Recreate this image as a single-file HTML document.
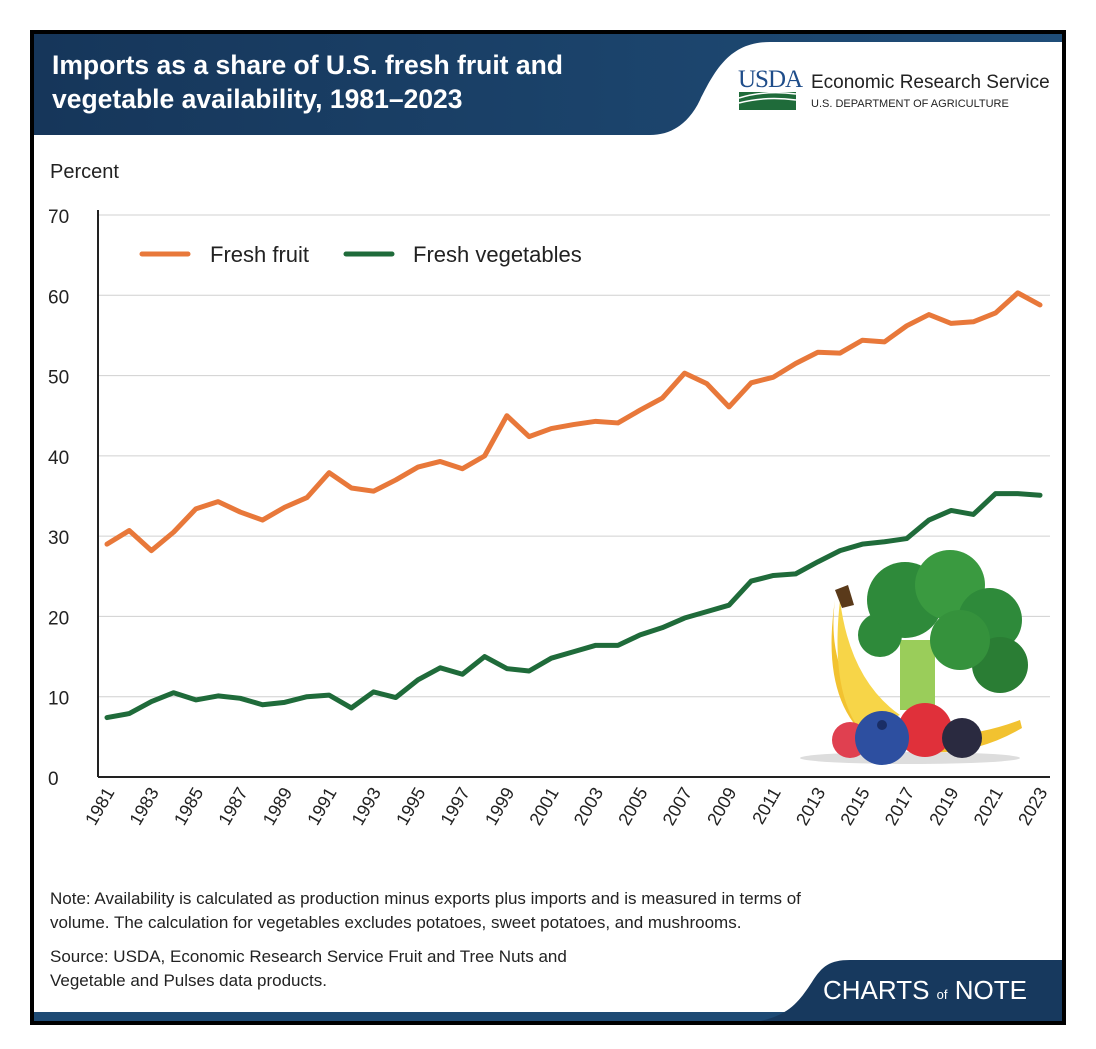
<!DOCTYPE html>
<html><head><meta charset="utf-8"><style>
body{margin:0;background:#fff;width:1096px;height:1044px;overflow:hidden;font-family:"Liberation Sans",sans-serif}
</style></head><body>
<svg id="chart" width="1096" height="1044" xmlns="http://www.w3.org/2000/svg" font-family="Liberation Sans, sans-serif">
<rect x="0" y="0" width="1096" height="1044" fill="#fff"/>
<rect x="32" y="32" width="1032" height="991" fill="#fff" stroke="#000" stroke-width="4"/>
<defs><linearGradient id="hg" x1="0" x2="1"><stop offset="0" stop-color="#16365a"/><stop offset="1" stop-color="#1f4d78"/></linearGradient></defs>
<path d="M34 34 H1062 V42 H770 C730 42 715 70 700 100 C688 125 670 135 650 135 H34 Z" fill="url(#hg)"/>
<text fill="#fff" font-weight="bold" font-size="26.5"><tspan x="52" y="74">Imports as a share of U.S. fresh fruit and</tspan><tspan x="52" y="108">vegetable availability, 1981–2023</tspan></text>
<g>
<text x="738" y="87" font-family="Liberation Serif, serif" font-size="25" fill="#1f4d8a" letter-spacing="-1">USDA</text>
<rect x="739" y="92" width="57" height="18" fill="#1f6b3a"/>
<path d="M739 98 Q765 90 796 94 M739 103 Q765 96 796 100" stroke="#fff" stroke-width="1.5" fill="none"/>
<text x="811" y="88" font-size="19" fill="#222">Economic Research Service</text>
<text x="811" y="107" font-size="11" fill="#222">U.S. DEPARTMENT OF AGRICULTURE</text>
</g>
<text x="50" y="178" font-size="20" fill="#222">Percent</text>
<g id="plot"></g>
<g>
<path d="M835 600 Q825 680 880 720 Q940 750 1020 720 L1022 728 Q950 770 870 740 Q820 700 835 600Z" fill="#f2c230"/>
<path d="M840 600 Q850 680 900 715 L860 730 Q830 690 840 600Z" fill="#f7d548"/>
<path d="M835 590 L848 585 L854 605 L842 608Z" fill="#5a3a1a"/>
<rect x="900" y="640" width="35" height="70" fill="#9acd5a"/>
<circle cx="905" cy="600" r="38" fill="#2e8a3a"/><circle cx="950" cy="585" r="35" fill="#3a9a40"/>
<circle cx="990" cy="620" r="32" fill="#2e8a3a"/><circle cx="1000" cy="665" r="28" fill="#2a7d34"/>
<circle cx="880" cy="635" r="22" fill="#2e8a3a"/><circle cx="960" cy="640" r="30" fill="#35923c"/>
<ellipse cx="910" cy="758" rx="110" ry="6" fill="#ddd"/>
<circle cx="850" cy="740" r="18" fill="#e04050"/>
<circle cx="925" cy="730" r="27" fill="#e0303a"/>
<circle cx="962" cy="738" r="20" fill="#2a2a40"/>
<circle cx="882" cy="738" r="27" fill="#2d4fa0"/><circle cx="882" cy="725" r="5" fill="#1a2e66"/>
</g>
<text font-size="17" fill="#222"><tspan x="50" y="904">Note: Availability is calculated as production minus exports plus imports and is measured in terms of</tspan><tspan x="50" y="928">volume. The calculation for vegetables excludes potatoes, sweet potatoes, and mushrooms.</tspan></text>
<text font-size="17" fill="#222"><tspan x="50" y="962">Source: USDA, Economic Research Service Fruit and Tree Nuts and</tspan><tspan x="50" y="986">Vegetable and Pulses data products.</tspan></text>
<rect x="34" y="1012" width="1028" height="9" fill="#1e4a74"/>
<path d="M760 1021 C790 1015 800 1000 812 982 C822 966 830 960 850 960 H1062 V1021Z" fill="#17395e"/>
<text x="823" y="999" font-size="26" fill="#fff">CHARTS <tspan font-size="13">of</tspan> NOTE</text>
</svg>
<script>
const years=[];for(let y=1981;y<=2023;y++)years.push(y);
const fruit=[29,30.7,28.2,30.5,33.4,34.3,33,32,33.6,34.8,37.9,36,35.6,37,38.6,39.3,38.4,40,45,42.4,43.4,43.9,44.3,44.1,45.7,47.2,50.3,49,46.1,49.1,49.8,51.5,52.9,52.8,54.4,54.2,56.2,57.6,56.5,56.7,57.8,60.3,58.8];
const veg=[7.4,7.9,9.4,10.5,9.6,10.1,9.8,9.0,9.3,10.0,10.2,8.6,10.6,9.9,12.1,13.6,12.8,15,13.5,13.2,14.8,15.6,16.4,16.4,17.7,18.6,19.8,20.6,21.4,24.4,25.1,25.3,26.8,28.2,29,29.3,29.7,32,33.2,32.7,35.3,35.3,35.1];
const yTicks=[0,10,20,30,40,50,60,70];
const ns="http://www.w3.org/2000/svg";
const g=document.getElementById('plot');
const X=y=>107+(y-1981)*(933/42);
const Y=v=>777-v*(562/70);
function mk(t,a){const e=document.createElementNS(ns,t);for(const k in a)e.setAttribute(k,a[k]);g.appendChild(e);return e;}
yTicks.forEach(t=>{
 if(t>0){const l=mk('line',{x1:98,x2:1050,y1:Y(t),y2:Y(t),stroke:'#d0d0d0','stroke-width':1});
 
 }
 const tx=mk('text',{x:48,y:Y(t)+8,'font-size':19,fill:'#222'});tx.textContent=t;
 
 
});
const ax=mk('line',{x1:98,x2:98,y1:210,y2:777,stroke:'#222','stroke-width':2});


const bx=mk('line',{x1:98,x2:1050,y1:777,y2:777,stroke:'#222','stroke-width':2});


years.forEach((yr,i)=>{if(i%2)return;
 const tx=mk('text',{x:X(yr)+8,y:792,'font-size':18,fill:'#222','text-anchor':'end',transform:`rotate(-60 ${X(yr)+8} 792)`});tx.textContent=yr;
 
 
});
function line(d,c,n){const p=mk('polyline',{points:d.map((v,i)=>X(years[i])+','+Y(v)).join(' '),fill:'none',stroke:c,'stroke-width':5,'stroke-linejoin':'round','stroke-linecap':'round'});
 
 }
line(fruit,'#e8783a','fruit-line');line(veg,'#1f6b3a','vegetables-line');
const l1=mk('line',{x1:142,x2:188,y1:254,y2:254,stroke:'#e8783a','stroke-width':5,'stroke-linecap':'round'});


const t1=mk('text',{x:210,y:262,'font-size':22,fill:'#222'});t1.textContent='Fresh fruit';


const l2=mk('line',{x1:346,x2:392,y1:254,y2:254,stroke:'#1f6b3a','stroke-width':5,'stroke-linecap':'round'});


const t2=mk('text',{x:413,y:262,'font-size':22,fill:'#222'});t2.textContent='Fresh vegetables';


</script>
</body></html>
